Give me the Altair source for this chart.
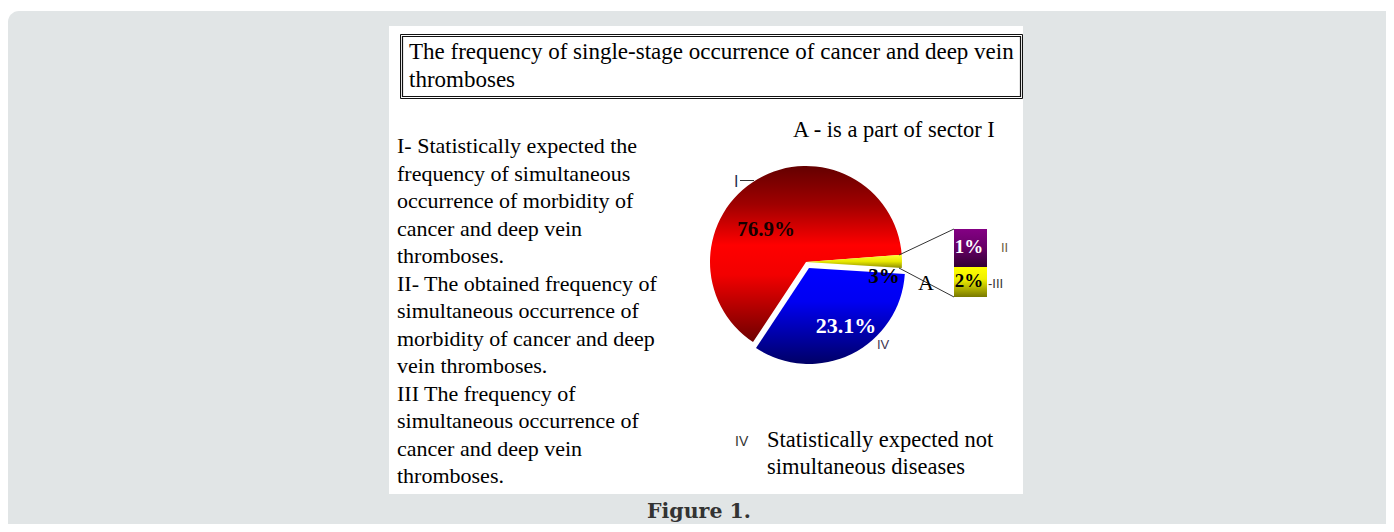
import math
import altair as alt
import pandas as pd

# ---------------- data ----------------
# main pie: slices clockwise starting at the small yellow sector "A"
pie_cats = ["A", "IV", "I"]
pie_share = [2.2, 33.3, 64.5]          # visual share of the circle
pie_labels = ["3%", "23.1%", "76.9%"]

# secondary stacked box (pie-of-pie): bottom to top
box_cats = ["III", "II"]
box_share = [44, 56]                    # visual share of the box height
box_labels = ["2%", "1%"]

title_lines = ["The frequency of single-stage occurrence of cancer and deep vein",
               "thromboses"]
left_lines = ["I- Statistically expected the",
              "frequency of simultaneous",
              "occurrence of morbidity of",
              "cancer and deep vein",
              "thromboses.",
              "II- The obtained frequency of",
              "simultaneous occurrence of",
              "morbidity of cancer and deep",
              "vein thromboses.",
              "III The frequency of",
              "simultaneous occurrence of",
              "cancer and deep vein",
              "thromboses."]
note_lines = ["Statistically expected not", "simultaneous diseases"]
sector_note = "A - is a part of sector I"
caption = "Figure 1."

# ---------------- layout helpers ----------------
W, H = 1378, 516
SERIF = "Liberation Serif"
SANS = "Liberation Sans"


def px(x):
    return x - 8


def py(y):
    return y - 8


def one():
    return alt.Data(values=[{"k": 1}])


def grad(stops):
    return alt.LinearGradient(gradient="linear", x1=0, x2=0, y1=0, y2=1,
                              stops=[alt.GradientStop(color=c, offset=o) for o, c in stops])


def label(text, x, y, size, font=SERIF, weight="normal", color="black",
          align="left", line_height=None):
    kw = dict(text=text, font=font, fontSize=size, fontWeight=weight, color=color,
              align=align, baseline="alphabetic")
    if line_height:
        kw["lineHeight"] = line_height
    return alt.Chart(one()).mark_text(**kw).encode(x=alt.value(px(x)), y=alt.value(py(y)))


def box(x1, y1, x2, y2, **kw):
    return alt.Chart(one()).mark_rect(**kw).encode(
        x=alt.value(px(x1)), x2=alt.value(px(x2)), y=alt.value(py(y1)), y2=alt.value(py(y2)))


def line(x1, y1, x2, y2, color="#333333", width=1):
    return alt.Chart(one()).mark_rule(color=color, strokeWidth=width).encode(
        x=alt.value(px(x1)), x2=alt.value(px(x2)), y=alt.value(py(y1)), y2=alt.value(py(y2)))


# ---------------- background ----------------
bg = box(8, 11, 1400, 560, fill="#e1e5e6", cornerRadius=11)
panel = box(389, 26, 1023, 494, fill="white")
tbox_outer = box(400.5, 34.5, 1022.5, 98.5, fill="white", stroke="#111111", strokeWidth=1)
tbox_inner = box(402.5, 36.5, 1020.5, 96.5, fillOpacity=0, stroke="#111111", strokeWidth=1.2)

# ---------------- pie ----------------
pie_df = pd.DataFrame({"cat": pie_cats, "share": pie_share, "order": list(range(len(pie_cats)))})
start = math.radians(85.7)
theta_scale = alt.Scale(domain=[0, 100], range=[start, start + 2 * math.pi])
pie_base = (alt.Chart(pie_df)
            .transform_window(cum="sum(share)", sort=[alt.SortField("order")], frame=[None, 0])
            .transform_calculate(t0="datum.cum - datum.share"))
CX, CY, R = 806, 262, 96


def slice_(cat, g, dx=0, dy=0):
    return (pie_base.transform_filter(alt.datum.cat == cat)
            .mark_arc(radius=R, fill=g, xOffset=dx, yOffset=dy)
            .encode(theta=alt.Theta("t0:Q", scale=theta_scale), theta2="cum:Q",
                    x=alt.value(px(CX)), y=alt.value(py(CY))))


red = slice_("I", grad([(0, "#640000"), (0.22, "#a00000"), (0.45, "#ff0000"),
                        (0.62, "#f20000"), (1, "#6e0000")]))
blue = slice_("IV", grad([(0, "#0000ff"), (0.35, "#0000f2"), (1, "#000066")]), dx=3, dy=6)
yellow = slice_("A", grad([(0, "#ffff30"), (0.5, "#e8e800"), (1, "#8c8c00")]))

# ---------------- secondary box ----------------
box_df = pd.DataFrame({"cat": box_cats, "share": box_share, "label": box_labels,
                       "order": list(range(len(box_cats)))})
y_scale = alt.Scale(domain=[0, 100], range=[py(297), py(229)])
box_base = (alt.Chart(box_df)
            .transform_window(cum="sum(share)", sort=[alt.SortField("order")], frame=[None, 0])
            .transform_calculate(s0="datum.cum - datum.share",
                                 mid="datum.cum - datum.share / 2"))


def seg(cat, g):
    return (box_base.transform_filter(alt.datum.cat == cat)
            .mark_rect(fill=g)
            .encode(x=alt.value(px(954)), x2=alt.value(px(987)),
                    y=alt.Y("s0:Q", scale=y_scale, axis=None), y2="cum:Q"))


seg_ii = seg("II", grad([(0, "#840084"), (0.5, "#660066"), (1, "#330033")]))
seg_iii = seg("III", grad([(0, "#ffff00"), (0.4, "#f0f000"), (1, "#787800")]))
box_text = (box_base.mark_text(font=SERIF, fontWeight="bold", fontSize=19, baseline="middle", dy=-1)
            .encode(x=alt.value(px(969)), y=alt.Y("mid:Q", scale=y_scale, axis=None),
                    text="label:N",
                    color=alt.condition(alt.datum.cat == "II", alt.value("white"), alt.value("black"))))

# ---------------- text ----------------
layers = [
    bg, panel, tbox_outer, tbox_inner,
    label(title_lines, 409, 59, 23, line_height=28),
    label(left_lines, 397, 153, 22, line_height=27.5),
    label(sector_note, 793, 137, 22.5),
    red, blue, yellow,
    line(899, 255, 954, 229), line(899, 268, 954, 297),
    seg_ii, seg_iii, box_text,
    label(pie_labels[2], 766, 236, 21, weight="bold", color="#140000", align="center"),
    label(pie_labels[1], 846, 333, 22, weight="bold", color="white", align="center"),
    label(pie_labels[0], 884, 283, 21, weight="bold", color="black", align="center"),
    label("A", 926, 290, 22, align="center"),
    label("I", 734, 187, 16, font=SANS, color="#1f2d50"),
    line(740, 180.5, 754, 180.5, color="#333333"),
    label("IV", 877, 349, 13, font=SANS, color="#3e3550"),
    label("II", 1001, 252, 13, font=SANS, color="#6e5e40"),
    label("-III", 988, 288, 13, font=SANS, color="#333333"),
    label("IV", 735, 446, 14, font=SANS, color="#333333"),
    label(note_lines, 767, 447, 22.5, line_height=27),
    label(caption, 699, 518, 20.5, font="DejaVu Serif", weight="bold", color="#333333", align="center"),
]

chart = (alt.layer(*layers)
         .properties(width=W, height=H, padding=0,
                     autosize=alt.AutoSizeParams(type="none"), background="white")
         .configure_view(stroke=None))

chart.save("out.html", embed_options={"renderer": "svg", "actions": False})
